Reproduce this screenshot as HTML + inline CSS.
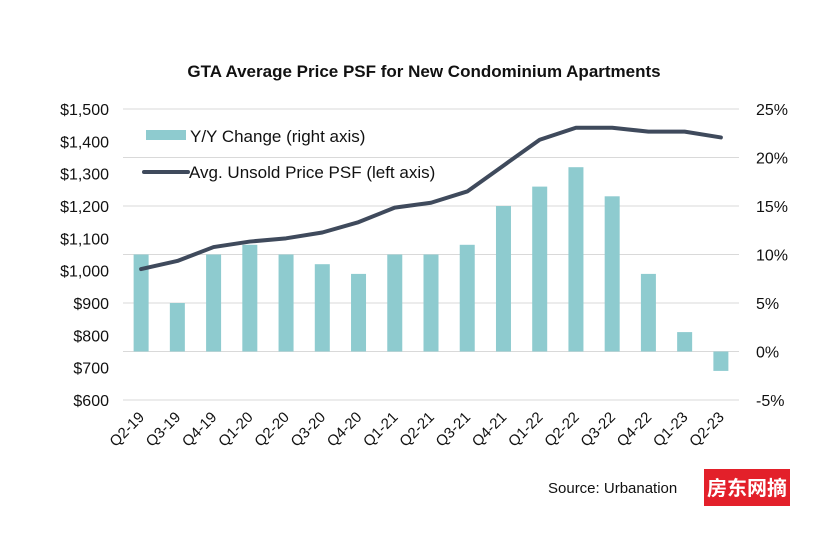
<!DOCTYPE html>
<html><head><meta charset="utf-8"><style>
body{margin:0;background:#fff;width:840px;height:532px;overflow:hidden;font-family:"Liberation Sans",Arial,sans-serif}
svg text{font-family:"Liberation Sans",Arial,sans-serif}
</style></head><body>
<svg id="c" width="840" height="532">
<text x="424" y="77" text-anchor="middle" font-size="17" font-weight="bold" fill="#111">GTA Average Price PSF for New Condominium Apartments</text>
<g id="grid"></g><g id="bars"></g><g id="line"></g><g id="axes"></g>
<g>
<rect x="146" y="130" width="40" height="10" fill="#8ecbcf"/>
<text x="190" y="142" font-size="17" fill="#111">Y/Y Change (right axis)</text>
<line x1="144" y1="172" x2="188" y2="172" stroke="#3f4a5c" stroke-width="4" stroke-linecap="round"/>
<text x="189" y="178" font-size="17" fill="#111">Avg. Unsold Price PSF (left axis)</text>
</g>
<text x="548" y="493" font-size="15" fill="#111">Source:  Urbanation</text>
<rect x="704" y="469" width="86" height="37" fill="#e3202a"/>
<text x="747" y="495" text-anchor="middle" font-size="20" font-weight="bold" fill="#fff" style="font-family:'Noto Sans CJK SC',sans-serif">房东网摘</text>
</svg>
<script>
const categories=["Q2-19","Q3-19","Q4-19","Q1-20","Q2-20","Q3-20","Q4-20","Q1-21","Q2-21","Q3-21","Q4-21","Q1-22","Q2-22","Q3-22","Q4-22","Q1-23","Q2-23"];
const yoyChange=[10,5,10,11,10,9,8,10,10,11,15,17,19,16,8,2,-2];
const avgPrice=[1005,1030,1073,1090,1100,1118,1150,1195,1210,1245,1325,1405,1442,1442,1430,1430,1412];
const leftTicks=[600,700,800,900,1000,1100,1200,1300,1400,1500];
const rightTicks=[-5,0,5,10,15,20,25];
const NS="http://www.w3.org/2000/svg";
const X0=123,X1=739,YT=109,YB=400;
const band=(X1-X0)/categories.length;
const xC=i=>X0+band*(i+0.5);
const yL=v=>YB-(v-600)/(1500-600)*(YB-YT);
const yR=v=>YB-(v+5)/30*(YB-YT);
function mk(t,a,p){const e=document.createElementNS(NS,t);for(const k in a)e.setAttribute(k,a[k]);p.appendChild(e);return e;}
const grid=document.getElementById('grid'),bars=document.getElementById('bars'),ln=document.getElementById('line'),ax=document.getElementById('axes');
rightTicks.forEach(v=>{const l=mk('line',{x1:X0,x2:X1,y1:yR(v),y2:yR(v),stroke:'#d9d9d9','stroke-width':1},grid);


const t=mk('text',{x:756,y:yR(v)+6,'font-size':16,fill:'#111'},ax);t.textContent=v+'%';

});
leftTicks.forEach(v=>{const t=mk('text',{x:109,y:yL(v)+6,'font-size':16,fill:'#111','text-anchor':'end'},ax);t.textContent='$'+v.toLocaleString('en-US');

});
const bw=15;
yoyChange.forEach((v,i)=>{const y0=yR(0),y=yR(v);const r=mk('rect',{x:xC(i)-bw/2,y:Math.min(y,y0),width:bw,height:Math.abs(y0-y),fill:'#8ecbcf'},bars);

});
const pts=avgPrice.map((v,i)=>xC(i)+','+yL(v)).join(' ');
const pl=mk('polyline',{points:pts,fill:'none',stroke:'#3f4a5c','stroke-width':4,'stroke-linejoin':'round','stroke-linecap':'round'},ln);


categories.forEach((c,i)=>{const x=xC(i)+4,y=418;const t=mk('text',{x:x,y:y,'font-size':15,fill:'#111','text-anchor':'end',transform:`rotate(-45 ${x} ${y})`},ax);t.textContent=c;

});
</script>
</body></html>
